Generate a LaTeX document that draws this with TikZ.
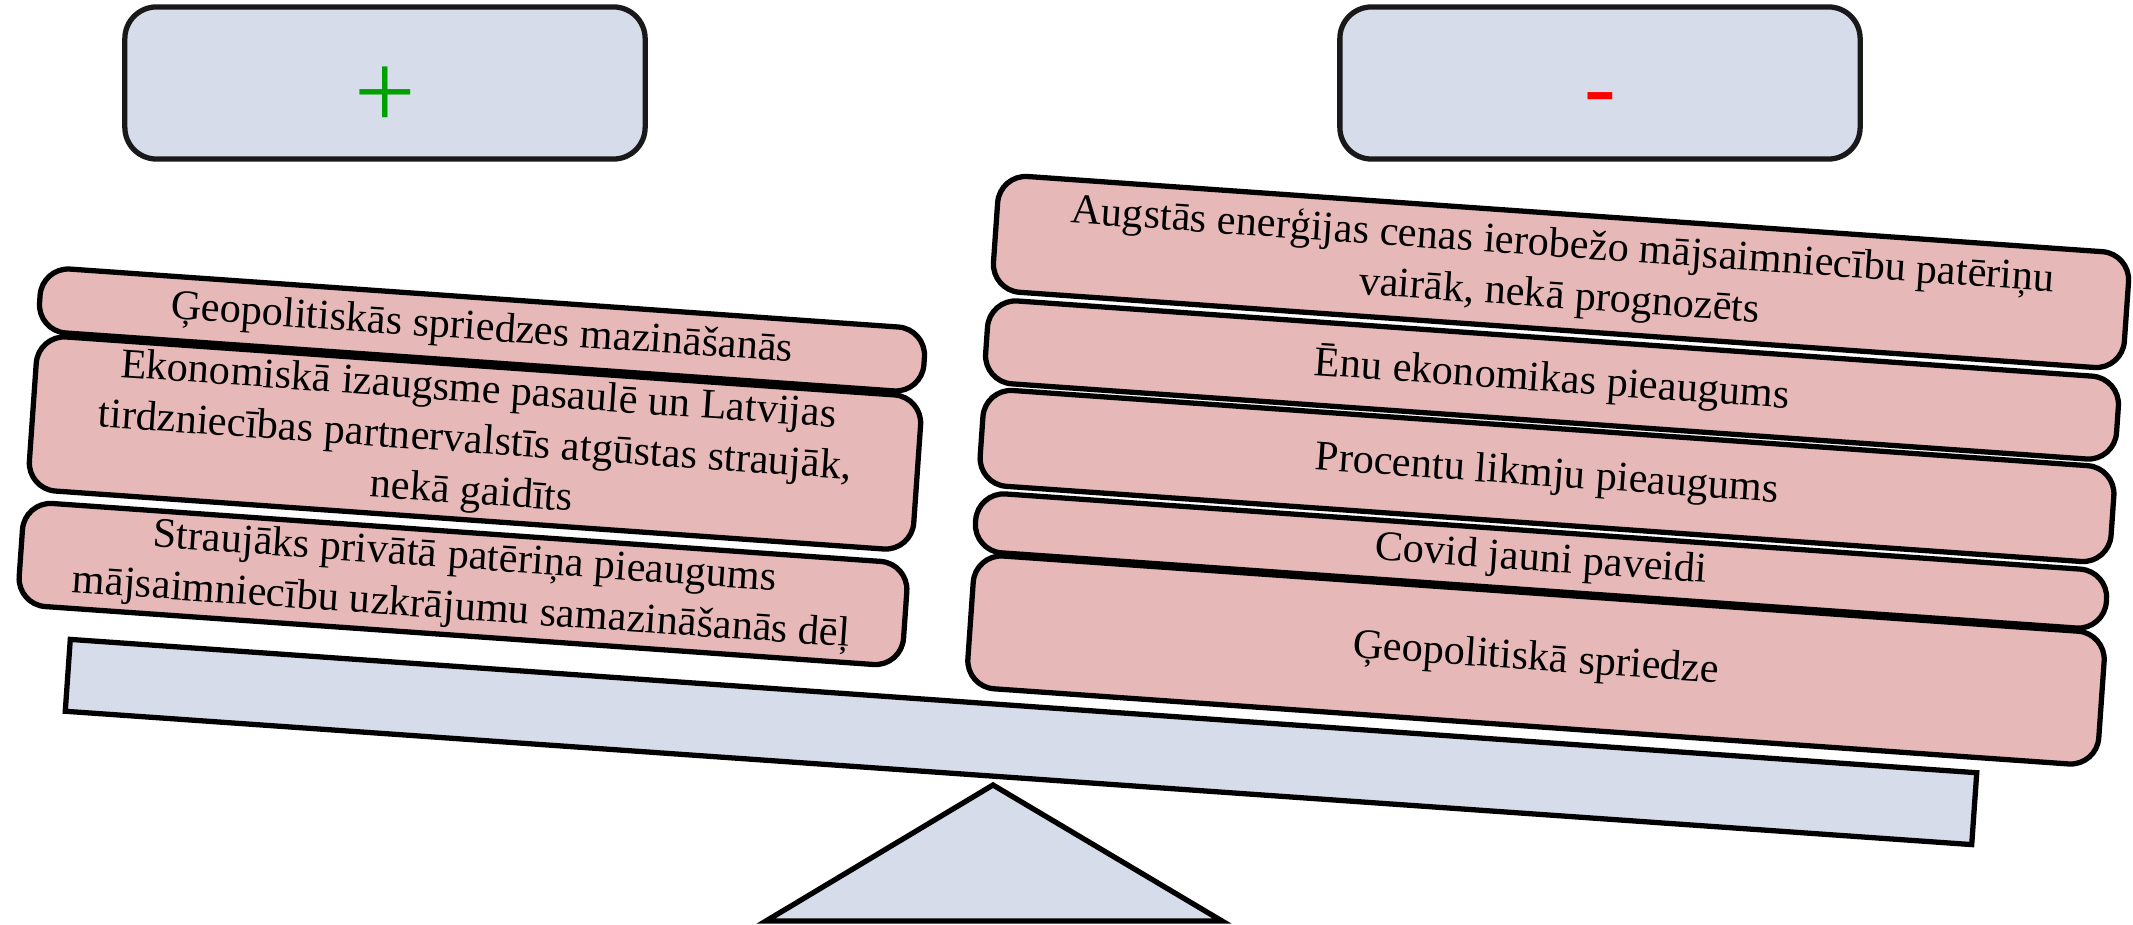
\documentclass[tikz,border=0pt]{standalone}
\usepackage{fontspec}
\setmainfont{Liberation Serif}
\definecolor{factpink}{RGB}{230,185,184}
\definecolor{scalegray}{RGB}{214,220,233}
\definecolor{plusgreen}{RGB}{0,160,0}
\tikzset{
  head/.style={draw=black!90, line width=1.5pt, fill=scalegray, rounded corners=9pt,
    minimum width=5.2cm, minimum height=1.52cm},
  factor/.style={draw=black, line width=1.5pt, fill=factpink, rounded corners=8pt,
    rotate=-4, align=center, inner sep=2pt, font=\fontsize{12}{14.5}\selectfont},
  leftfact/.style={factor, minimum width=8.86cm},
  rightfact/.style={factor, minimum width=11.33cm},
}
\begin{document}
\begin{tikzpicture}[x=0.01cm,y=-0.01cm]
  \useasboundingbox (0,0) rectangle (2133,925);
  % pro and contra headers
  \node[head, text=plusgreen, font=\fontsize{31}{34}\selectfont] (plus) at (385,83)
    {\raisebox{-13pt}[0pt][0pt]{+}};
  \node[head, text=red, font=\fontsize{27}{30}\selectfont] (minus) at (1600,83)
    {\raisebox{-10pt}[0pt][0pt]{-}};
  % fulcrum and beam
  \draw[line width=1.5pt, fill=scalegray] (993,785) -- (1222,921) -- (766,921) -- cycle;
  \node[draw=black, line width=1.5pt, fill=scalegray, rotate=-4,
    minimum width=19.1cm, minimum height=0.72cm] (beam) at (1021,742) {};
  % positive factors
  \node[leftfact, minimum height=0.64cm] (pos1) at (482,330)
    {Ģeopolitiskās spriedzes mazināšanās};
  \node[leftfact, minimum height=1.40cm] (pos2) at (475,443)
    {Ekonomiskā izaugsme pasaulē un Latvijas\\ tirdzniecības partnervalstīs atgūstas straujāk,\\ nekā gaidīts};
  \node[leftfact, minimum height=1.03cm] (pos3) at (463,584)
    {Straujāks privātā patēriņa pieaugums\\ mājsaimniecību uzkrājumu samazināšanās dēļ};
  % negative factors
  \node[rightfact, minimum height=1.16cm] (neg1) at (1561,272)
    {Augstās enerģijas cenas ierobežo mājsaimniecību patēriņu\\ vairāk, nekā prognozēts};
  \node[rightfact, minimum height=0.83cm] (neg2) at (1552,380)
    {Ēnu ekonomikas pieaugums};
  \node[rightfact, minimum height=0.96cm] (neg3) at (1547,476)
    {Procentu likmju pieaugums};
  \node[rightfact, minimum height=0.59cm] (neg4) at (1541,561)
    {Covid jauni paveidi};
  \node[rightfact, minimum height=1.33cm] (neg5) at (1536,660)
    {Ģeopolitiskā spriedze};
\end{tikzpicture}
\end{document}
